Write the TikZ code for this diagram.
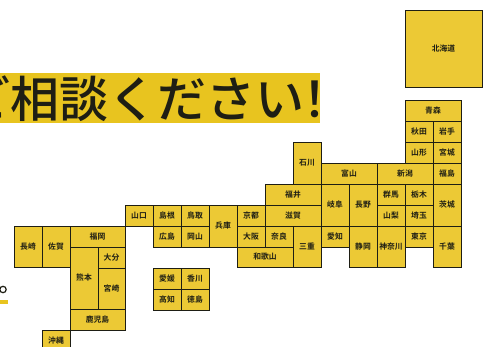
\documentclass[tikz,border=0pt]{standalone}
\usepackage{fontspec}
\newfontfamily\jpb{Noto Sans CJK JP Bold}
\newfontfamily\jpm{Noto Sans CJK JP Medium}
\definecolor{bannerY}{HTML}{E8C41F}
\definecolor{boxY}{HTML}{ECC935}
\definecolor{inkK}{HTML}{1E1E14}
\tikzset{
  prefbox/.style={draw=inkK,line width=0.95pt,fill=boxY},
  preflabel/.style={text=inkK,inner sep=0pt,font=\jpb\fontsize{7.8}{8}\selectfont},
}
\newcommand{\pref}[6]{\path[prefbox] (#2,#3) rectangle (#4,#5);
  \node[preflabel] (#1) at ({(#2+#4)/2},{(#3+#5)/2}) {#6};}
\begin{document}
\begin{tikzpicture}[x=1pt,y=-1pt]
\useasboundingbox (0,0) rectangle (484,347);
\clip (0,0) rectangle (484,347);
\fill[bannerY] (0,73) rectangle (320,123);
\node[anchor=base west,inner sep=0pt,text=inkK,font=\jpm\fontsize{49}{49}\selectfont] (title) at (-39,117.5) {ご相談ください\hspace{-14pt}！};
\draw[inkK,line width=1.2pt] (3,289.5) circle (3.2);
\fill[bannerY] (0,300) rectangle (8,303.5);
\pref{hokkaido}{405}{10}{482}{87}{北海道}
\pref{aomori}{405}{100}{461}{121}{青森}
\pref{akita}{405}{121}{433}{142}{秋田}
\pref{iwate}{433}{121}{461}{142}{岩手}
\pref{yamagata}{405}{142}{433}{163}{山形}
\pref{miyagi}{433}{142}{461}{163}{宮城}
\pref{fukushima}{433}{163}{461}{184}{福島}
\pref{ishikawa}{293}{142}{321}{184}{石川}
\pref{toyama}{321}{163}{377}{184}{富山}
\pref{niigata}{377}{163}{433}{184}{新潟}
\pref{fukui}{265}{184}{321}{205}{福井}
\pref{shiga}{265}{205}{321}{226}{滋賀}
\pref{gifu}{321}{184}{349}{226}{岐阜}
\pref{nagano}{349}{184}{377}{226}{長野}
\pref{gunma}{377}{184}{405}{205}{群馬}
\pref{tochigi}{405}{184}{433}{205}{栃木}
\pref{yamanashi}{377}{205}{405}{226}{山梨}
\pref{saitama}{405}{205}{433}{226}{埼玉}
\pref{ibaraki}{433}{184}{461}{226}{茨城}
\pref{chiba}{433}{226}{461}{267}{千葉}
\pref{tokyo}{405}{226}{433}{247}{東京}
\pref{kanagawa}{377}{226}{405}{267}{神奈川}
\pref{shizuoka}{349}{226}{377}{267}{静岡}
\pref{aichi}{321}{226}{349}{247}{愛知}
\pref{mie}{293}{226}{321}{267}{三重}
\pref{nara}{265}{226}{293}{247}{奈良}
\pref{osaka}{237}{226}{265}{247}{大阪}
\pref{kyoto}{237}{205}{265}{226}{京都}
\pref{wakayama}{237}{247}{293}{267}{和歌山}
\pref{hyogo}{209}{205}{237}{247}{兵庫}
\pref{tottori}{181}{205}{209}{226}{鳥取}
\pref{okayama}{181}{226}{209}{247}{岡山}
\pref{shimane}{153}{205}{181}{226}{島根}
\pref{hiroshima}{153}{226}{181}{247}{広島}
\pref{yamaguchi}{125}{205}{153}{226}{山口}
\pref{ehime}{153}{268}{181}{289}{愛媛}
\pref{kagawa}{181}{268}{209}{289}{香川}
\pref{kochi}{153}{289}{181}{310}{高知}
\pref{tokushima}{181}{289}{209}{310}{徳島}
\pref{fukuoka}{70}{226}{125}{247}{福岡}
\pref{nagasaki}{14}{226}{42}{267}{長崎}
\pref{saga}{42}{226}{70}{267}{佐賀}
\pref{kumamoto}{70}{247}{98}{309}{熊本}
\pref{oita}{98}{247}{125}{268}{大分}
\pref{miyazaki}{98}{268}{125}{309}{宮崎}
\pref{kagoshima}{70}{309}{125}{330}{鹿児島}
\pref{okinawa}{42}{330}{70}{352}{沖縄}
\end{tikzpicture}
\end{document}
